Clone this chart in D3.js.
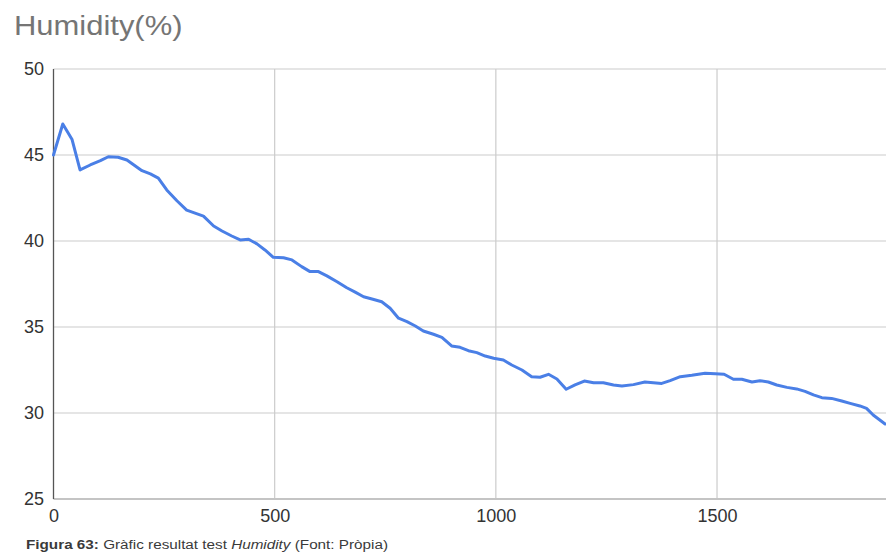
<!DOCTYPE html>
<html>
<head>
<meta charset="utf-8">
<script src="https://cdn.jsdelivr.net/npm/d3@7"></script>
<style>
  html, body { margin: 0; padding: 0; background: #fff; }
  svg { display: block; }
</style>
</head>
<body>
<svg id="chart" width="886" height="558"></svg>
<script>
const xValues = [0, 21, 42, 60, 83, 106, 124, 146, 166, 185, 200, 219, 237, 256, 279, 301, 339, 362, 381, 403,
  422, 441, 460, 478, 497, 520, 539, 561, 580, 599, 618, 641, 663, 682, 701, 720, 742, 761, 780, 799,
  818, 836, 859, 878, 900, 919, 938, 957, 976, 995, 1017, 1036, 1059, 1081, 1100, 1119, 1138, 1159, 1179, 1200,
  1221, 1243, 1266, 1285, 1311, 1337, 1375, 1394, 1417, 1443, 1473, 1496, 1516, 1537, 1556, 1579, 1597, 1616, 1635, 1658,
  1680, 1699, 1718, 1737, 1759, 1782, 1801, 1823, 1838, 1853, 1880];
const humidity = [45.0, 46.8, 45.9, 44.13, 44.42, 44.67, 44.9, 44.87, 44.71, 44.36, 44.09, 43.9, 43.66, 42.97, 42.34, 41.8, 41.45, 40.87, 40.58, 40.29,
  40.06, 40.1, 39.83, 39.48, 39.05, 39.03, 38.9, 38.51, 38.22, 38.22, 37.97, 37.63, 37.28, 37.03, 36.76, 36.63, 36.47, 36.09, 35.51, 35.31,
  35.06, 34.77, 34.58, 34.4, 33.9, 33.82, 33.62, 33.51, 33.31, 33.18, 33.08, 32.79, 32.5, 32.11, 32.08, 32.25, 31.98, 31.38, 31.63, 31.86,
  31.76, 31.76, 31.63, 31.57, 31.65, 31.8, 31.72, 31.88, 32.11, 32.19, 32.31, 32.28, 32.25, 31.96, 31.96, 31.8, 31.88, 31.8, 31.63, 31.49,
  31.4, 31.26, 31.05, 30.89, 30.85, 30.7, 30.56, 30.41, 30.27, 29.88, 29.36];
const xTicks = [0, 500, 1000, 1500];
const yTicks = [25, 30, 35, 40, 45, 50];
const titleText = "Humidity(%)";

const svg = d3.select("#chart");
const margin = { left: 53.5, right: 886, top: 69, bottom: 499 };

const x = d3.scaleLinear().domain([0, 1882]).range([margin.left, margin.right]);
const y = d3.scaleLinear().domain([25, 50]).range([margin.bottom, margin.top]);

// title
svg.append("text")
  .attr("x", 14).attr("y", 34.5)
  .attr("font-family", "Liberation Sans, Arial, sans-serif")
  .attr("font-size", 28)
  .attr("fill", "#757575")
  .attr("textLength", 168.5)
  .attr("lengthAdjust", "spacingAndGlyphs")
  .text(titleText);

// horizontal gridlines
svg.append("g")
  .selectAll("line")
  .data(yTicks.filter(d => d !== 25))
  .join("line")
  .attr("x1", margin.left).attr("x2", margin.right)
  .attr("y1", d => y(d)).attr("y2", d => y(d))
  .attr("stroke", "#cccccc").attr("stroke-width", 1.2);

// vertical gridlines
svg.append("g")
  .selectAll("line")
  .data(xTicks.filter(d => d !== 0))
  .join("line")
  .attr("x1", d => x(d)).attr("x2", d => x(d))
  .attr("y1", margin.top).attr("y2", margin.bottom)
  .attr("stroke", "#cccccc").attr("stroke-width", 1.2);

// baseline
svg.append("line")
  .attr("x1", margin.left).attr("x2", margin.right)
  .attr("y1", y(25)).attr("y2", y(25))
  .attr("stroke", "#c4c4c4").attr("stroke-width", 2);

// left axis line
svg.append("line")
  .attr("x1", x(0)).attr("x2", x(0))
  .attr("y1", margin.top).attr("y2", margin.bottom)
  .attr("stroke", "#555555").attr("stroke-width", 1.3);

// y axis labels
const yAxis = d3.axisLeft(y).tickValues(yTicks).tickSize(0).tickPadding(9.5).tickFormat(d3.format("d"));
const gy = svg.append("g").attr("transform", `translate(${margin.left},0)`).call(yAxis);
gy.select(".domain").remove();
gy.selectAll("text")
  .attr("font-family", "Liberation Sans, Arial, sans-serif")
  .attr("font-size", 18).attr("fill", "#333333");

// x axis labels
const xAxis = d3.axisBottom(x).tickValues(xTicks).tickSize(0).tickPadding(10).tickFormat(d3.format("d"));
const gx = svg.append("g").attr("transform", `translate(0,${margin.bottom})`).call(xAxis);
gx.select(".domain").remove();
gx.selectAll("text")
  .attr("font-family", "Liberation Sans, Arial, sans-serif")
  .attr("font-size", 18).attr("fill", "#333333");

// line
const pts = xValues.map((v, i) => [v, humidity[i]]);
svg.append("path")
  .datum(pts)
  .attr("fill", "none")
  .attr("stroke", "#4a7fe6")
  .attr("stroke-width", 3)
  .attr("stroke-linejoin", "round")
  .attr("stroke-linecap", "round")
  .attr("d", d3.line().x(d => x(d[0])).y(d => y(d[1])));

// caption
const cap = svg.append("text")
  .attr("x", 26).attr("y", 549)
  .attr("font-family", "Liberation Sans, Arial, sans-serif")
  .attr("font-size", 12.5)
  .attr("fill", "#3a3a3a")
  .attr("textLength", 362)
  .attr("lengthAdjust", "spacingAndGlyphs");
cap.append("tspan").attr("font-weight", "bold").text("Figura 63:");
cap.append("tspan").text(" Gràfic resultat test ");
cap.append("tspan").attr("font-style", "italic").text("Humidity");
cap.append("tspan").text(" (Font: Pròpia)");
</script>
</body>
</html>
